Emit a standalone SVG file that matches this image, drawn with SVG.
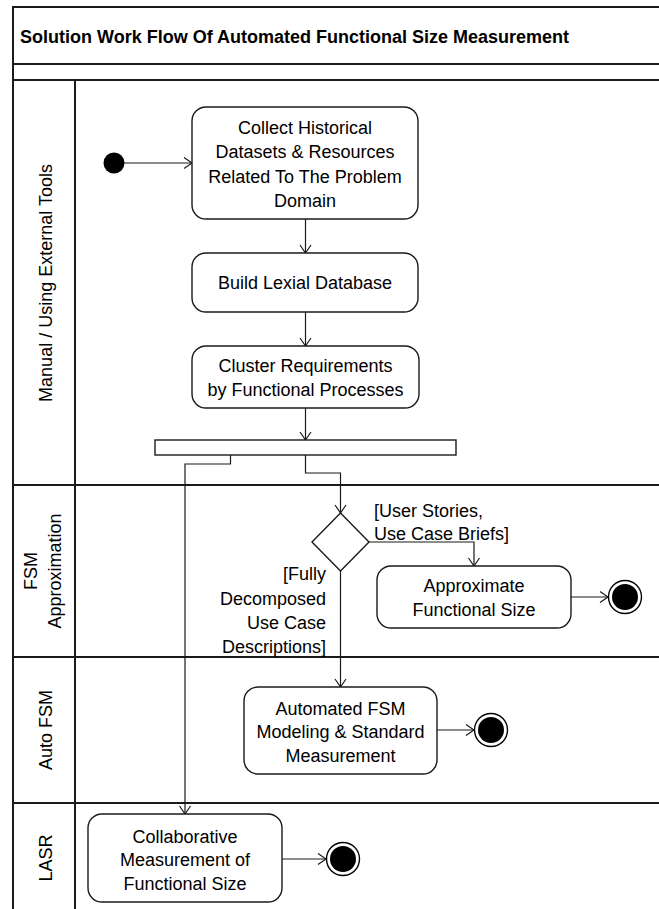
<svg xmlns="http://www.w3.org/2000/svg" width="659" height="909" viewBox="0 0 659 909">
  <style>
    text { font-family: "Liberation Sans", Arial, sans-serif; font-size: 18px; fill: #000; }
    .title { font-weight: bold; }
    .c { text-anchor: middle; }
    .r { text-anchor: end; }
    .lane { fill: none; stroke: #1a1a1a; stroke-width: 2; }
    .act { fill: #fff; stroke: #1a1a1a; stroke-width: 1.4; }
    .flow { fill: none; stroke: #1a1a1a; stroke-width: 1.2; }
    .bar { fill: #fff; stroke: #1a1a1a; stroke-width: 1.4; }
  </style>
  <defs>
    <marker id="arrow" markerUnits="userSpaceOnUse" markerWidth="12" markerHeight="14" viewBox="-10 -7 12 14" refX="0" refY="0" orient="auto">
      <path d="M-8,-5.5 L0,0 L-8,5.5" fill="none" stroke="#1a1a1a" stroke-width="1.2"/>
    </marker>
  </defs>

  <rect width="659" height="909" fill="#fff"/>

  <!-- pool frame and swimlanes -->
  <g id="pool">
    <path class="lane" d="M13,909 V7 H659 M13,64 H659 M13,80 H659 M75,80 V909 M13,485 H659 M13,657 H659 M13,803 H659"/>
    <text class="title" x="20" y="43">Solution Work Flow Of Automated Functional Size Measurement</text>
  </g>
  <g id="lane-manual">
    <text class="c" transform="translate(52,283) rotate(-90)">Manual / Using External Tools</text>
  </g>
  <g id="lane-approx">
    <text class="c" transform="translate(37,571) rotate(-90)">FSM</text>
    <text class="c" transform="translate(61,571) rotate(-90)">Approximation</text>
  </g>
  <g id="lane-auto">
    <text class="c" transform="translate(52,730) rotate(-90)">Auto FSM</text>
  </g>
  <g id="lane-lasr">
    <text class="c" transform="translate(52,858) rotate(-90)">LASR</text>
  </g>

  <!-- control flows -->
  <g id="connectors">
    <path class="flow" d="M114,163 H192" marker-end="url(#arrow)"/>
    <path class="flow" d="M305.5,219 V253" marker-end="url(#arrow)"/>
    <path class="flow" d="M305.5,312 V346" marker-end="url(#arrow)"/>
    <path class="flow" d="M305.5,408 V440" marker-end="url(#arrow)"/>
    <path class="flow" d="M230.5,455 V464 H185 V814" marker-end="url(#arrow)"/>
    <path class="flow" d="M305.5,455 V473 H340.5 V513" marker-end="url(#arrow)"/>
    <path class="flow" d="M369,542 H474 V566" marker-end="url(#arrow)"/>
    <path class="flow" d="M340.5,571 V687" marker-end="url(#arrow)"/>
    <path class="flow" d="M571,597 H608" marker-end="url(#arrow)"/>
    <path class="flow" d="M437,730 H474" marker-end="url(#arrow)"/>
    <path class="flow" d="M282,859 H326" marker-end="url(#arrow)"/>
    <text x="374" y="516.5">[User Stories,</text>
    <text x="374" y="539.5">Use Case Briefs]</text>
    <text class="r" x="326" y="579.5">[Fully</text>
    <text class="r" x="326" y="604.5">Decomposed</text>
    <text class="r" x="326" y="628.5">Use Case</text>
    <text class="r" x="326" y="652.5">Descriptions]</text>
  </g>

  <!-- nodes -->
  <g id="start">
    <circle cx="114" cy="163" r="10.5" fill="#000"/>
  </g>
  <g id="collect">
    <rect class="act" x="192" y="107" width="226" height="112" rx="14"/>
    <text class="c" x="305" y="133.5">Collect Historical</text>
    <text class="c" x="305" y="158">Datasets &amp; Resources</text>
    <text class="c" x="305" y="182.5">Related To The Problem</text>
    <text class="c" x="305" y="206.5">Domain</text>
  </g>
  <g id="build-lexical">
    <rect class="act" x="192" y="253" width="226" height="59" rx="14"/>
    <text class="c" x="305" y="289">Build Lexial Database</text>
  </g>
  <g id="cluster">
    <rect class="act" x="192" y="346" width="227" height="62" rx="14"/>
    <text class="c" x="305.5" y="371.5">Cluster Requirements</text>
    <text class="c" x="305.5" y="396">by Functional Processes</text>
  </g>
  <g id="fork">
    <rect class="bar" x="155" y="440" width="301" height="15"/>
  </g>
  <g id="decision">
    <path class="act" d="M340.5,513 L369,542 L340.5,571 L312,542 Z"/>
  </g>
  <g id="approximate">
    <rect class="act" x="377" y="566" width="194" height="62" rx="14"/>
    <text class="c" x="474" y="591.5">Approximate</text>
    <text class="c" x="474" y="615.5">Functional Size</text>
  </g>
  <g id="end-approx">
    <circle cx="625" cy="597" r="16.5" fill="#fff" stroke="#000" stroke-width="1.4"/>
    <circle cx="625" cy="597" r="13" fill="#000"/>
  </g>
  <g id="automated">
    <rect class="act" x="244" y="687" width="193" height="87" rx="14"/>
    <text class="c" x="340.5" y="714.5">Automated FSM</text>
    <text class="c" x="340.5" y="737.5">Modeling &amp; Standard</text>
    <text class="c" x="340.5" y="761.5">Measurement</text>
  </g>
  <g id="end-auto">
    <circle cx="491" cy="730" r="16.5" fill="#fff" stroke="#000" stroke-width="1.4"/>
    <circle cx="491" cy="730" r="13" fill="#000"/>
  </g>
  <g id="collaborative">
    <rect class="act" x="88" y="814" width="194" height="88" rx="14"/>
    <text class="c" x="185" y="842.5">Collaborative</text>
    <text class="c" x="185" y="865.5">Measurement of</text>
    <text class="c" x="185" y="889.5">Functional Size</text>
  </g>
  <g id="end-lasr">
    <circle cx="343" cy="859" r="16.5" fill="#fff" stroke="#000" stroke-width="1.4"/>
    <circle cx="343" cy="859" r="13" fill="#000"/>
  </g>
</svg>
